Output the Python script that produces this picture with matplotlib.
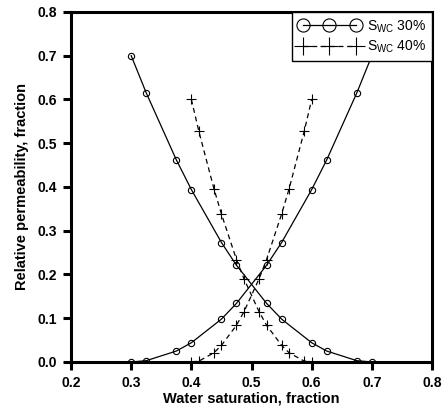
import matplotlib
matplotlib.use("Agg")
import matplotlib.pyplot as plt

plt.rcParams['font.family'] = ['Liberation Sans', 'DejaVu Sans']
plt.rcParams['mathtext.fontset'] = 'custom'
plt.rcParams['mathtext.rm'] = 'Liberation Sans'

# Swc 30% (circles)
sw30 = [0.3, 0.325, 0.375, 0.4, 0.45, 0.475, 0.525, 0.55, 0.6, 0.625, 0.675, 0.7]
krw30 = [0.0, 0.003, 0.025, 0.044, 0.098, 0.134, 0.221, 0.273, 0.394, 0.462, 0.615, 0.7]
kro30 = [0.7, 0.615, 0.462, 0.394, 0.273, 0.221, 0.134, 0.098, 0.044, 0.025, 0.003, 0.0]

# Swc 40% (plus)
sw40 = [0.4, 0.4125, 0.4375, 0.45, 0.475, 0.4875, 0.5125, 0.525, 0.55, 0.5625, 0.5875, 0.6]
krw40 = [0.0, 0.002, 0.021, 0.038, 0.084, 0.115, 0.190, 0.234, 0.338, 0.396, 0.527, 0.6]
kro40 = [0.6, 0.527, 0.396, 0.338, 0.234, 0.190, 0.115, 0.084, 0.038, 0.021, 0.002, 0.0]

labels = [r'S$_{\mathrm{WC}}$ 30%', r'S$_{\mathrm{WC}}$ 40%']

fig = plt.figure(figsize=(4.44, 4.12), dpi=100)
ax = fig.add_axes([0.16, 0.1214, 0.813, 0.8496])

l1, = ax.plot(sw30, krw30, '-', color='black', lw=0.9, marker='o', ms=4.5,
              mfc='none', mec='black', mew=0.8, label=labels[0])
ax.plot(sw30, kro30, '-', color='black', lw=0.9, marker='o', ms=4.5,
        mfc='none', mec='black', mew=0.8)
l2, = ax.plot(sw40, krw40, '--', color='black', lw=0.9, marker='+', ms=6.5,
              mew=0.8, dashes=(4, 3), label=labels[1])
ax.plot(sw40, kro40, '--', color='black', lw=0.9, marker='+', ms=6.5,
        mew=0.8, dashes=(4, 3))

ax.set_xlim(0.2, 0.8)
ax.set_ylim(0.0, 0.8)
ax.set_xticks([0.2, 0.3, 0.4, 0.5, 0.6, 0.7, 0.8])
ax.set_yticks([0.0, 0.1, 0.2, 0.3, 0.4, 0.5, 0.6, 0.7, 0.8])
ax.set_xticklabels(['0.2', '0.3', '0.4', '0.5', '0.6', '0.7', '0.8'])
ax.set_yticklabels(['0.0', '0.1', '0.2', '0.3', '0.4', '0.5', '0.6', '0.7', '0.8'])

for s in ax.spines.values():
    s.set_linewidth(2.2)
ax.tick_params(direction='out', length=6, width=2.2, labelsize=10, pad=4)
for t in ax.get_xticklabels() + ax.get_yticklabels():
    t.set_fontweight('bold')

ax.set_xlabel('Water saturation, fraction', fontsize=10.5, fontweight='bold', labelpad=1)
ax.set_ylabel('Relative permeability, fraction', fontsize=10.5, fontweight='bold', labelpad=6)

leg = ax.legend(handles=[l1, l2], loc='upper right', numpoints=3, markerscale=2.1,
                frameon=True, fancybox=False, edgecolor='black', framealpha=1,
                borderaxespad=0, fontsize=10, handlelength=4.4, handletextpad=0.5,
                borderpad=0.45, labelspacing=0.3)
leg.get_frame().set_linewidth(1.0)

fig.savefig('out.png', dpi=100)
